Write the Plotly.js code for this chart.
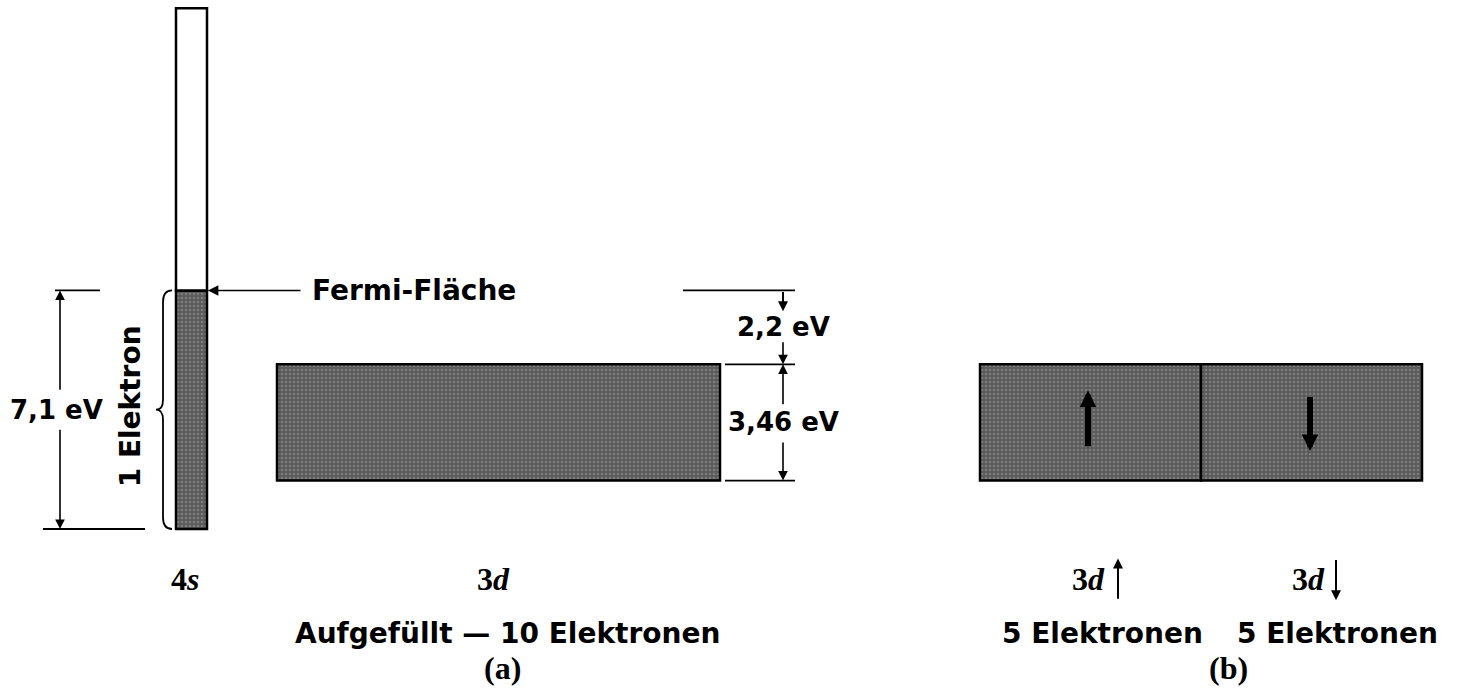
<!DOCTYPE html>
<html>
<head>
<meta charset="utf-8">
<script src="https://cdn.plot.ly/plotly-3.0.1.min.js"></script>
<style>
html,body{margin:0;padding:0;background:#fff;}
#chart{width:1466px;height:694px;}
</style>
</head>
<body>
<div id="chart"></div>
<script>
// ---- Data (energies in eV) ----
const fermiEnergy = 7.1;        // occupied width of the 4s band
const gapFermiTo3d = 2.2;       // Fermi level to top of 3d band
const width3d = 3.46;           // width of the 3d band
const top4sDrawn = 15.5;        // upper end of the drawn 4s band
const bandLabels = ['4<i>s</i>', '3<i>d</i>', '3<i>d</i>', '3<i>d</i>'];
const electronCounts = [1, 10, 5, 5];
const dimLabels = ['7,1 eV', '2,2 eV', '3,46 eV'];
const panelLabels = ['(a)', '(b)'];

const top3d = fermiEnergy - gapFermiTo3d;
const bottom3d = top3d - width3d;

const GREY = '#5a5a5a';
const SANS = 'DejaVu Sans, sans-serif';
const SERIF = 'Liberation Serif, serif';
const lineStyle = {color: '#000', width: 2.5};
const texture = {shape: '.', size: 4, solidity: 0.35, fgcolor: '#7e7e7e', bgcolor: GREY, fillmode: 'replace'};

const traces = [
  {type: 'bar', x: [191.5], base: [0], y: [fermiEnergy], width: [31],
   marker: {color: GREY, line: lineStyle, pattern: texture}},
  {type: 'bar', x: [191.5], base: [fermiEnergy], y: [top4sDrawn - fermiEnergy], width: [31],
   marker: {color: '#fff', line: lineStyle}},
  {type: 'bar', x: [498.5], base: [bottom3d], y: [width3d], width: [443],
   marker: {color: GREY, line: lineStyle, pattern: texture}},
  {type: 'bar', x: [1090.5, 1311.5], base: [bottom3d, bottom3d], y: [width3d, width3d], width: [221, 221],
   marker: {color: GREY, line: lineStyle, pattern: texture}}
];

function hline(x0, x1, y) {
  return {type: 'line', xref: 'x', yref: 'y', x0: x0, x1: x1, y0: y, y1: y, line: {color: '#000', width: 1.8}};
}
function arrow(x, yTip, yTail, opts) {
  return Object.assign({x: x, y: yTip, ax: x, ay: yTail, xref: 'x', yref: 'y', axref: 'x', ayref: 'y',
    text: '', showarrow: true, arrowhead: 2, arrowsize: 1.2, arrowwidth: 1.6, arrowcolor: '#000'}, opts || {});
}
function label(x, y, text, size, family, opts) {
  return Object.assign({x: x, y: y, xref: 'x', yref: 'y', text: text, showarrow: false,
    font: {family: family, size: size, color: '#000', weight: 'bold'}}, opts || {});
}

const mid71 = fermiEnergy / 2;
const mid22 = (fermiEnergy + top3d) / 2;
const mid346 = (top3d + bottom3d) / 2;

const shapes = [
  hline(55, 100, fermiEnergy),
  hline(43, 145, 0),
  hline(683, 795, fermiEnergy),
  hline(725, 795, top3d),
  hline(725, 795, bottom3d),
  // brace for "1 Elektron"
  {type: 'path', xref: 'x', yref: 'y', line: {color: '#000', width: 1.8},
   path: `M 172,${fermiEnergy} Q 163,${fermiEnergy} 163,${fermiEnergy - 0.35} L 163,${mid71 + 0.3} Q 163,${mid71} 156,${mid71} Q 163,${mid71} 163,${mid71 - 0.3} L 163,0.35 Q 163,0 172,0`}
];

const annotations = [
  // 7,1 eV dimension
  arrow(60, fermiEnergy, mid71 + 0.55),
  arrow(60, 0, mid71 - 0.55),
  label(56, mid71, dimLabels[0], 26, SANS),
  label(130, mid71 + 0.1, electronCounts[0] + ' Elektron', 28, SANS, {textangle: -90}),
  // Fermi surface
  arrow(208, fermiEnergy, fermiEnergy, {ax: 302, arrowsize: 1.3}),
  label(310, fermiEnergy, 'Fermi-Fläche', 28, SANS, {xanchor: 'left'}),
  // 2,2 eV
  arrow(783, fermiEnergy - 0.62, fermiEnergy, {arrowsize: 1.0, arrowwidth: 2}),
  arrow(783, top3d, mid22 - 0.4),
  label(783, mid22, dimLabels[1], 26, SANS),
  // 3,46 eV
  arrow(783, top3d, mid346 + 0.5),
  arrow(783, bottom3d, mid346 - 0.55),
  label(783, mid346, dimLabels[2], 26, SANS),
  // spin arrows inside band (b)
  arrow(1088, mid346 + 0.95, mid346 - 0.75, {arrowwidth: 6, arrowsize: 0.55}),
  arrow(1310, mid346 - 0.85, mid346 + 0.8, {arrowwidth: 6, arrowsize: 0.55}),
  // band labels
  label(185, -1.5, bandLabels[0], 32, SERIF),
  label(493, -1.5, bandLabels[1], 32, SERIF),
  label(1088, -1.5, bandLabels[2], 32, SERIF),
  label(1308, -1.5, bandLabels[3], 32, SERIF),
  arrow(1118, -0.88, -2.12, {arrowwidth: 2, arrowsize: 1.0}),
  arrow(1336, -2.12, -0.88, {arrowwidth: 2, arrowsize: 1.0}),
  // electron counts
  label(507, -3.12, 'Aufgefüllt — ' + electronCounts[1] + ' Elektronen', 28, SANS),
  label(1102, -3.12, electronCounts[2] + ' Elektronen', 28, SANS),
  label(1337, -3.12, electronCounts[3] + ' Elektronen', 28, SANS),
  // panel labels
  label(502, -4.15, panelLabels[0], 32, SERIF),
  label(1228, -4.15, panelLabels[1], 32, SERIF)
];

const layout = {
  width: 1466, height: 694,
  margin: {l: 0, r: 0, t: 0, b: 0},
  paper_bgcolor: '#fff', plot_bgcolor: '#fff',
  showlegend: false, barmode: 'overlay',
  xaxis: {range: [0, 1466], visible: false, fixedrange: true},
  yaxis: {range: [-4.911, 15.744], visible: false, fixedrange: true},
  shapes: shapes,
  annotations: annotations
};

Plotly.newPlot('chart', traces, layout, {staticPlot: true, displayModeBar: false});
</script>
</body>
</html>
